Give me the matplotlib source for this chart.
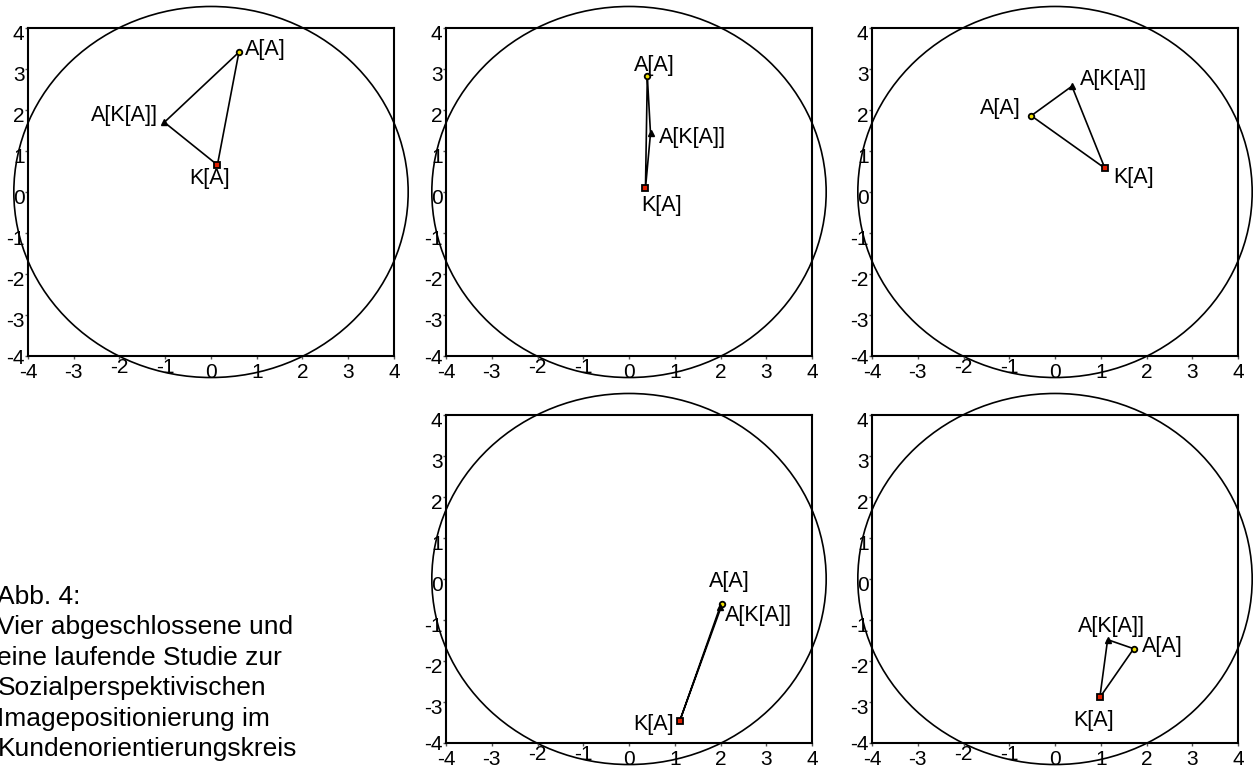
import numpy as np
import matplotlib
matplotlib.use("Agg")
import matplotlib.pyplot as plt
from matplotlib.patches import Ellipse
from matplotlib import transforms

plt.rcParams['font.family'] = ['Liberation Sans', 'DejaVu Sans']

# Positionen je Studie: A[A], A[K[A]], K[A]
aa_x = [0.61, 0.40, -0.52, 2.04, 1.72]
aa_y = [3.41, 2.83, 1.86, -0.60, -1.70]
aka_x = [-1.02, 0.47, 0.37, 1.99, 1.15]
aka_y = [1.70, 1.43, 2.58, -0.68, -1.48]
ka_x = [0.14, 0.36, 1.09, 1.11, 0.98]
ka_y = [0.66, 0.09, 0.58, -3.46, -2.89]

punkt_namen = ["A[A]", "A[K[A]]", "K[A]"]
achsen_ticks = [-4, -3, -2, -1, 0, 1, 2, 3, 4]

caption = ("Abb. 4:\nVier abgeschlossene und\neine laufende Studie zur\n"
           "Sozialperspektivischen\nImagepositionierung im\nKundenorientierungskreis")

# label-versatz in pixel (dx, dy, ha) je panel und punkt
label_off = [
    [(6, 3, 'left'), (-6, 7, 'right'), (-8, -14, 'center')],
    [(7, 10, 'center'), (8, -4, 'left'), (16, -17, 'center')],
    [(-11, 7, 'right'), (8, 7, 'left'), (8, -9, 'left')],
    [(7, 22, 'center'), (5, -9, 'left'), (-6, -4, 'right')],
    [(8, 2, 'left'), (4, 13, 'center'), (-6, -23, 'center')],
]

W, H = 1253, 769
fig = plt.figure(figsize=(W / 100, H / 100), dpi=100)

# panel-positionen in pixeln (links, oben)
panel_px = [(28, 28), (446, 28), (872, 28), (446, 415), (872, 415)]
pw, ph = 366, 328

for i, (lx, ty) in enumerate(panel_px):
    ax = fig.add_axes([lx / W, (H - ty - ph) / H, pw / W, ph / H])
    ax.set_xlim(-4, 4)
    ax.set_ylim(-4, 4)
    for sp in ax.spines.values():
        sp.set_linewidth(1.5)

    kreis = Ellipse((0, 0), 8.62, 9.05, fill=False, ec='black', lw=1.2, clip_on=False, zorder=1)
    ax.add_patch(kreis)

    xs = [aa_x[i], aka_x[i], ka_x[i], aa_x[i]]
    ys = [aa_y[i], aka_y[i], ka_y[i], aa_y[i]]
    ax.plot(xs, ys, color='black', lw=1.2, zorder=2, clip_on=False)
    ax.plot(aa_x[i], aa_y[i], marker='o', ms=4, mfc='#f0e000', mec='black', mew=1.3, zorder=3)
    ax.plot(aka_x[i], aka_y[i], marker='^', ms=5, mfc='black', mec='black', zorder=3)
    ax.plot(ka_x[i], ka_y[i], marker='s', ms=4.5, mfc='#e02000', mec='black', mew=1.3, zorder=3)

    pts = [(aa_x[i], aa_y[i]), (aka_x[i], aka_y[i]), (ka_x[i], ka_y[i])]
    for (px, py), name, (dx, dy, ha) in zip(pts, punkt_namen, label_off[i]):
        ax.annotate(name, (px, py), xytext=(dx, dy), textcoords='offset pixels',
                    ha=ha, va='center', fontsize=15.5)

    ax.set_xticks(achsen_ticks)
    ax.set_yticks(achsen_ticks)
    ax.set_xticklabels([str(t) for t in achsen_ticks])
    ax.set_yticklabels([str(t) for t in achsen_ticks])
    ax.tick_params(axis='both', direction='out', length=2, width=1, color='#555555', labelsize=15)
    ax.tick_params(axis='x', pad=3)
    ax.tick_params(axis='y', pad=0.5)

    # y-labels etwas nach unten (ausser -4), -2/-1 an der x-achse etwas hoeher
    for t, lab in zip(achsen_ticks, ax.get_yticklabels()):
        dy = 0.0 if t == -4 else -0.045
        lab.set_transform(lab.get_transform() + transforms.ScaledTranslation(0, dy, fig.dpi_scale_trans))
    for t, lab in zip(achsen_ticks, ax.get_xticklabels()):
        if t in (-2, -1):
            lab.set_transform(lab.get_transform() + transforms.ScaledTranslation(0, 0.05, fig.dpi_scale_trans))

fig.text(-0.002, (H - 585) / H, caption, ha='left', va='top', fontsize=19, linespacing=1.34)

fig.savefig("out.png", dpi=100)
